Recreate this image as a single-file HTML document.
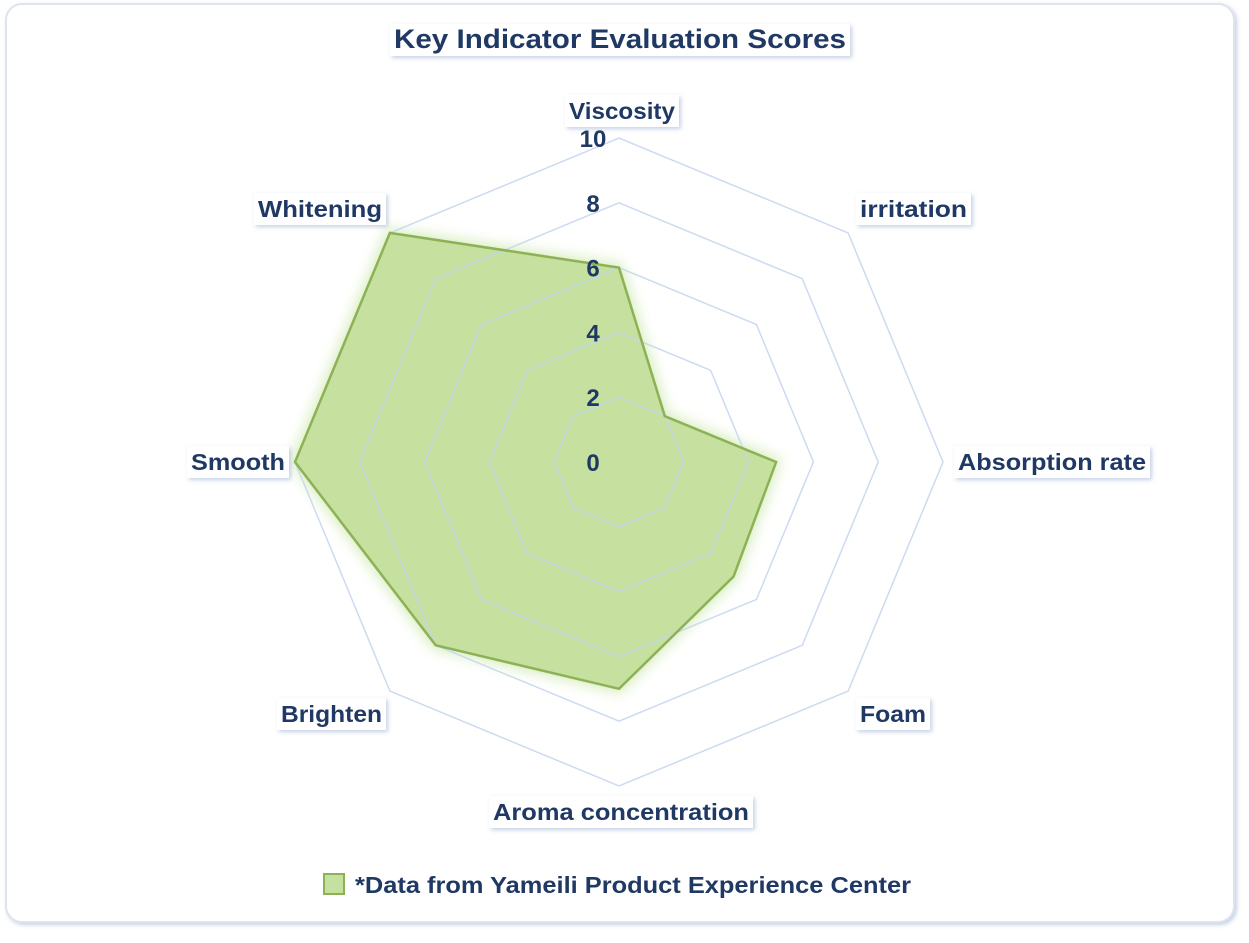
<!DOCTYPE html>
<html><head><meta charset="utf-8"><style>
body{margin:0;background:#fff;}
svg text{font-family:"Liberation Sans",sans-serif;font-weight:bold;fill:#1F3864;}
</style></head><body>
<svg id="s" width="1249" height="938" xmlns="http://www.w3.org/2000/svg">
<defs>
<filter id="sh" x="-20%" y="-20%" width="140%" height="140%"><feDropShadow dx="2" dy="2" stdDeviation="2" flood-color="#9fb0d0" flood-opacity="0.6"/></filter>
<filter id="gl" x="-20%" y="-20%" width="140%" height="140%"><feGaussianBlur stdDeviation="6"/></filter>
</defs>
<rect x="6" y="4" width="1228" height="918" rx="16" fill="#fff" stroke="#dde4ee" stroke-width="2" filter="url(#sh)"/>
<g id="g"></g>
</svg>
<script>
var cx=619,cy=462,R=324,g=document.getElementById('g'),ns='http://www.w3.org/2000/svg';
function el(t,a,txt){var e=document.createElementNS(ns,t);for(var k in a)e.setAttribute(k,a[k]);if(txt!=null)e.textContent=txt;g.appendChild(e);return e;}
function pt(i,v){var a=i*Math.PI/4;return [cx+Math.sin(a)*R*v/10,cy-Math.cos(a)*R*v/10];}
var vals=[6,2,4.85,5,7,8,10,10];var p=[];for(var i=0;i<8;i++)p.push(pt(i,vals[i]).join(','));
el('polygon',{points:p.join(' '),fill:'#d4eab8',stroke:'#dcefc6','stroke-width':10,filter:'url(#gl)'});
el('polygon',{points:p.join(' '),fill:'#c5e09f'});
for(var l=2;l<=10;l+=2){var q=[];for(var i=0;i<8;i++)q.push(pt(i,l).join(','));el('polygon',{points:q.join(' '),fill:'none',stroke:'#c3d5ee','stroke-width':1.5,'stroke-opacity':0.85});}
el('polygon',{points:p.join(' '),fill:'none',stroke:'#8db255','stroke-width':2.5});
for(var l=0;l<=10;l+=2)el('text',{x:593,y:cy-R*l/10+9,'font-size':24,'text-anchor':'middle'},String(l));
function lab(x,y,w,t,fs){el('rect',{x:x-4,y:y-24,width:w+8,height:32,fill:'#fff',filter:'url(#sh)'});el('text',{x:x,y:y,'font-size':fs||23,textLength:w,lengthAdjust:'spacingAndGlyphs'},t);}
lab(569,119,106,'Viscosity');
lab(860,217,107,'irritation');
lab(958,470,188,'Absorption rate');
lab(860,722,66,'Foam');
lab(493,820,256,'Aroma concentration');
lab(281,722,101,'Brighten');
lab(191,470,94,'Smooth');
lab(258,217,124,'Whitening');
lab(394,48,452,'Key Indicator Evaluation Scores',27);
el('rect',{x:324,y:874,width:20,height:20,fill:'#c5e09f',stroke:'#8db255','stroke-width':2});
el('text',{x:355,y:893,'font-size':23,textLength:556,lengthAdjust:'spacingAndGlyphs'},'*Data from Yameili Product Experience Center');
</script>
</body></html>
